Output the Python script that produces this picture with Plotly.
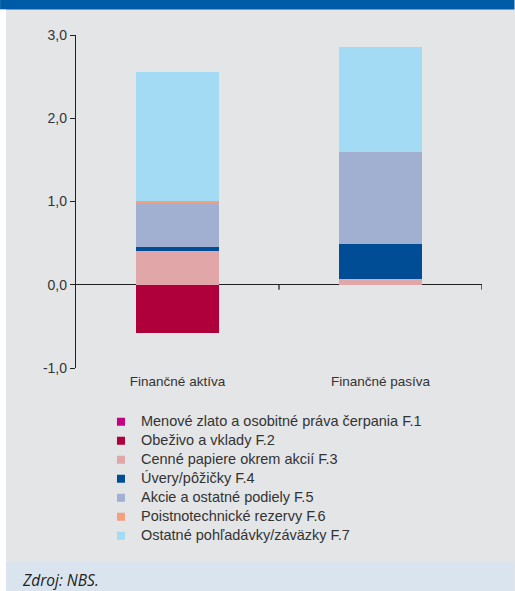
import plotly.graph_objects as go

categories = ["Finančné aktíva", "Finančné pasíva"]
series_names = [
    "Menové zlato a osobitné práva čerpania F.1",
    "Obeživo a vklady F.2",
    "Cenné papiere okrem akcií F.3",
    "Úvery/pôžičky F.4",
    "Akcie a ostatné podiely F.5",
    "Poistnotechnické rezervy F.6",
    "Ostatné pohľadávky/záväzky F.7",
]
f1 = [0.0, 0.0]
f2 = [-0.575, 0.0]
f3 = [0.41, 0.07]
f4 = [0.045, 0.42]
f5 = [0.53, 1.10]
f6 = [0.02, 0.0]
f7 = [1.545, 1.27]
series_values = [f1, f2, f3, f4, f5, f6, f7]
colors = ["#C6007E", "#B0003C", "#E0A6A8", "#004C95", "#A1AFD1", "#F3A07E", "#A3DAF4"]
y_ticks = [-1.0, 0.0, 1.0, 2.0, 3.0]
y_tick_labels = [f"{v:.1f}".replace(".", ",") for v in y_ticks]

W, H = 515, 591
L, R, T, B = 76, 482.5, 35, 368


def px_x(p):
    return (p - L) / (R - L)


def px_y(p):
    return (B - p) / (B - T)


fig = go.Figure()
for name, vals, col in zip(series_names, series_values, colors):
    fig.add_trace(go.Bar(
        x=categories, y=vals, name=name, width=0.405,
        marker=dict(color=col, line=dict(width=0)),
        showlegend=False, hoverinfo="skip",
    ))
    fig.add_trace(go.Scatter(
        x=[None], y=[None], mode="markers",
        name='<span style="font-size:14.5px">' + name + "</span>",
        marker=dict(symbol="square", size=8, color=col, line=dict(width=0)),
        showlegend=True,
    ))

shapes = []
# category boundary ticks on the zero line
for i in range(len(categories)):
    shapes.append(dict(type="line", xref="x", yref="y", ysizemode="pixel", yanchor=0,
                       x0=i + 0.5, x1=i + 0.5, y0=0, y1=-5,
                       line=dict(color="#222222", width=1.3)))
# frame decorations
shapes += [
    dict(type="rect", xref="paper", yref="paper", x0=px_x(0), x1=px_x(W), y0=px_y(0), y1=px_y(9.5),
         fillcolor="#005BA7", line=dict(width=0), layer="above"),
    dict(type="rect", xref="paper", yref="paper", x0=px_x(0), x1=px_x(6), y0=px_y(9.5), y1=px_y(H),
         fillcolor="#FFFFFF", line=dict(width=0), layer="above"),
    dict(type="rect", xref="paper", yref="paper", x0=px_x(6), x1=px_x(W), y0=px_y(562), y1=px_y(H),
         fillcolor="#DAE4EF", line=dict(width=0), layer="above"),
]

fig.update_layout(
    width=W, height=H,
    margin=dict(l=L, r=W - R, t=T, b=H - B, pad=0),
    paper_bgcolor="#E4E5E7", plot_bgcolor="#E4E5E7",
    barmode="relative", bargap=0,
    font=dict(family="Liberation Sans, Arial, sans-serif", color="#222222", size=13),
    xaxis=dict(range=[-0.5, len(categories) - 0.5], showline=False, showgrid=False, zeroline=False,
               ticks="", type="category", ticklabelstandoff=3,
               tickfont=dict(family="Liberation Sans, Arial, sans-serif", size=13.5, color="#333333")),
    yaxis=dict(range=[-1, 3], tickvals=y_ticks, ticktext=y_tick_labels, showgrid=False,
               showline=True, linecolor="#222222", linewidth=1.3,
               ticks="outside", ticklen=5, tickwidth=1.3, tickcolor="#222222",
               zeroline=True, zerolinecolor="#222222", zerolinewidth=1.3,
               tickfont=dict(size=14, color="#333333")),
    legend=dict(x=px_x(101), y=px_y(407.2), xanchor="left", yanchor="top",
                bgcolor="rgba(0,0,0,0)", borderwidth=0, traceorder="normal",
                font=dict(size=12, color="#333333", family="Liberation Sans, Arial, sans-serif")),
    shapes=shapes,
    annotations=[dict(text="<i>Zdroj: NBS.</i>", xref="paper", yref="paper",
                      x=px_x(21), y=px_y(579.5), xanchor="left", yanchor="middle", showarrow=False,
                      borderpad=0,
                      font=dict(size=15.5, color="#222222", family="Open Sans, sans-serif"))],
)

fig.write_html("out.html", config={"displayModeBar": False},
               post_script="document.body.style.margin='0px';document.body.style.overflow='hidden';")
